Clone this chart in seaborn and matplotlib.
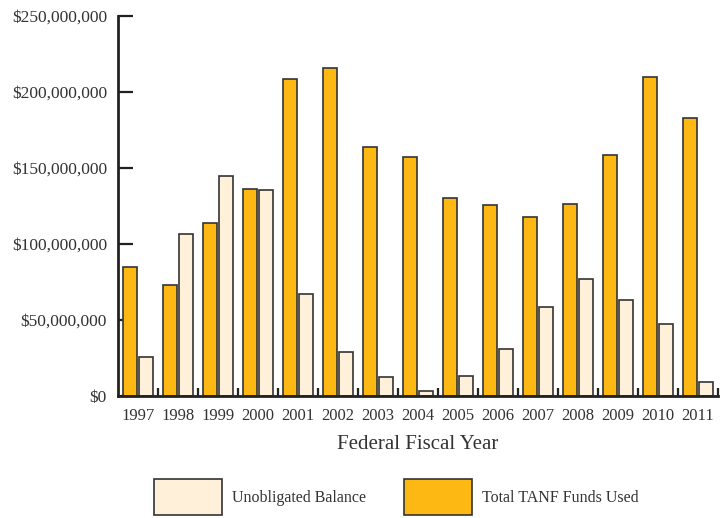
import matplotlib
matplotlib.use("Agg")
import matplotlib.pyplot as plt
from matplotlib.patches import Patch
from matplotlib.ticker import FuncFormatter, FixedLocator
import seaborn as sns
import pandas as pd

years = ["1997", "1998", "1999", "2000", "2001", "2002", "2003", "2004",
         "2005", "2006", "2007", "2008", "2009", "2010", "2011"]
funds_used = [84.7e6, 72.6e6, 113.8e6, 135.8e6, 208.2e6, 215.6e6, 163.6e6, 157.0e6,
              130.3e6, 125.7e6, 117.4e6, 125.9e6, 158.4e6, 209.9e6, 182.9e6]
unobligated = [25.7e6, 106.6e6, 144.5e6, 135.1e6, 66.9e6, 28.7e6, 12.1e6, 3.3e6,
               13.2e6, 30.9e6, 58.2e6, 76.6e6, 62.8e6, 47.4e6, 9.0e6]
series_names = ["Total TANF Funds Used", "Unobligated Balance"]
series_colors = ["#FDB813", "#FFF0D9"]

df = pd.DataFrame({
    "year": years * 2,
    "amount": funds_used + unobligated,
    "series": [series_names[0]] * len(years) + [series_names[1]] * len(years),
})

sns.set_style("white")
plt.rcParams["font.family"] = ["Liberation Serif", "DejaVu Serif"]
text_color = "#333333"
edge_color = "#333333"

fig = plt.figure(figsize=(7.27, 5.18), dpi=100)
ax = fig.add_axes([0.1623, 0.236, 0.9876 - 0.1623, 0.9697 - 0.236])

sns.barplot(data=df, x="year", y="amount", hue="series", hue_order=series_names,
            palette=series_colors, width=0.8, gap=0.1, edgecolor=edge_color,
            linewidth=1.2, saturation=1, errorbar=None, legend=False, ax=ax)

ax.set_xlim(-0.5, len(years) - 0.5)
ax.set_ylim(0, 250e6)
ax.set_yticks([0, 50e6, 100e6, 150e6, 200e6, 250e6])
ax.yaxis.set_major_formatter(FuncFormatter(lambda v, p: f"${v:,.0f}"))

for side in ["top", "right"]:
    ax.spines[side].set_visible(False)
for side in ["left", "bottom"]:
    ax.spines[side].set_linewidth(2)
    ax.spines[side].set_color("#222222")

ax.tick_params(axis="y", direction="in", length=11, width=1.6, color="#222222",
               labelsize=12.5, labelcolor=text_color, pad=8, left=True)
ax.tick_params(axis="x", which="major", length=0, labelsize=12,
               labelcolor=text_color, pad=9)
ax.xaxis.set_minor_locator(FixedLocator([i + 0.5 for i in range(len(years))]))
ax.tick_params(axis="x", which="minor", direction="in", length=6, width=1.6,
               color="#222222", bottom=True)

ax.set_xlabel("Federal Fiscal Year", fontsize=15, color=text_color, labelpad=8)
ax.set_ylabel("")
ax.grid(False)

handles = [Patch(facecolor=series_colors[1], edgecolor=edge_color, linewidth=1.2),
           Patch(facecolor=series_colors[0], edgecolor=edge_color, linewidth=1.2)]
labels = [series_names[1], series_names[0]]
fig.legend(handles, labels, loc="center", bbox_to_anchor=(0.545, 0.04), ncol=2,
           frameon=False, fontsize=11.5, handlelength=4.25, handleheight=3.1,
           handletextpad=0.6, columnspacing=2.4, labelcolor=text_color,
           borderpad=0.2)

fig.savefig("out.png", dpi=100)
